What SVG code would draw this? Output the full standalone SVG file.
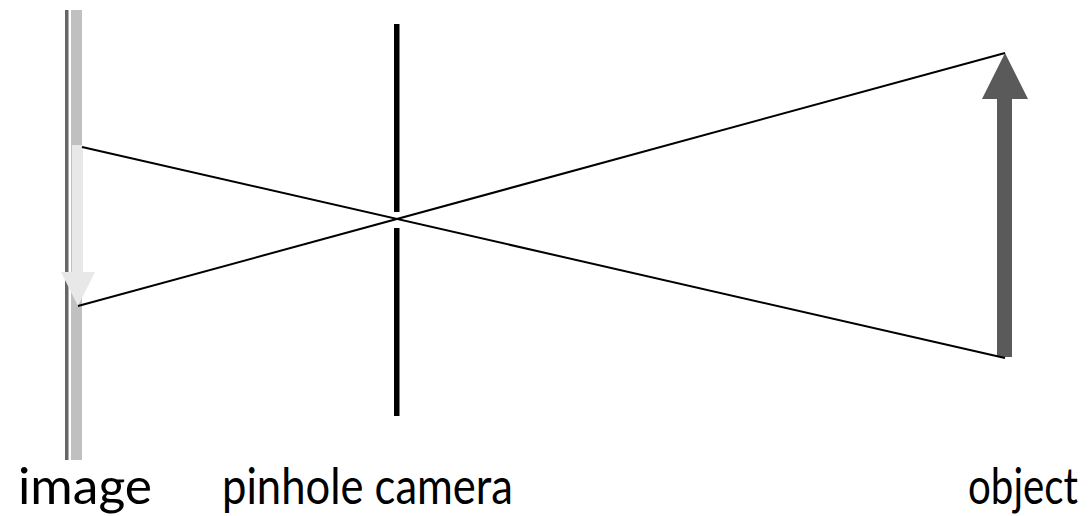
<svg xmlns="http://www.w3.org/2000/svg" width="1092" height="516" viewBox="0 0 1092 516">
<style>
.lbl{font-family:Lato,"Open Sans","Liberation Sans",sans-serif;font-size:50px;fill:#000}
.ray{stroke:#000;stroke-width:2;fill:none}
</style>
<rect width="1092" height="516" fill="#fff"/>
<g id="image-plate">
<rect x="65" y="10" width="3.5" height="450" fill="#666"/>
<rect x="71" y="10" width="11" height="450" fill="#c0c0c0"/>
</g>
<g id="image-arrow">
<rect x="72" y="145" width="11" height="128" fill="#e8e8e8"/>
<polygon points="61,272 95,272 78,306" fill="#e8e8e8"/>
</g>
<g id="pinhole">
<rect x="394" y="24" width="5.5" height="188" fill="#000"/>
<rect x="394" y="228" width="5.5" height="188" fill="#000"/>
</g>
<g id="object-arrow">
<rect x="997" y="98" width="15" height="259" fill="#5a5a5a"/>
<polygon points="982,99 1028,99 1005,53" fill="#5a5a5a"/>
</g>
<g id="connectors">
<line class="ray" x1="82" y1="147" x2="1005" y2="358"/>
<line class="ray" x1="78" y1="306" x2="1005" y2="53"/>
</g>
<g id="labels">
<text class="lbl" x="18" y="504" textLength="134" lengthAdjust="spacingAndGlyphs">image</text>
<text class="lbl" x="222" y="504" textLength="291" lengthAdjust="spacingAndGlyphs">pinhole camera</text>
<text class="lbl" x="968" y="504" textLength="110" lengthAdjust="spacingAndGlyphs">object</text>
</g>
</svg>
